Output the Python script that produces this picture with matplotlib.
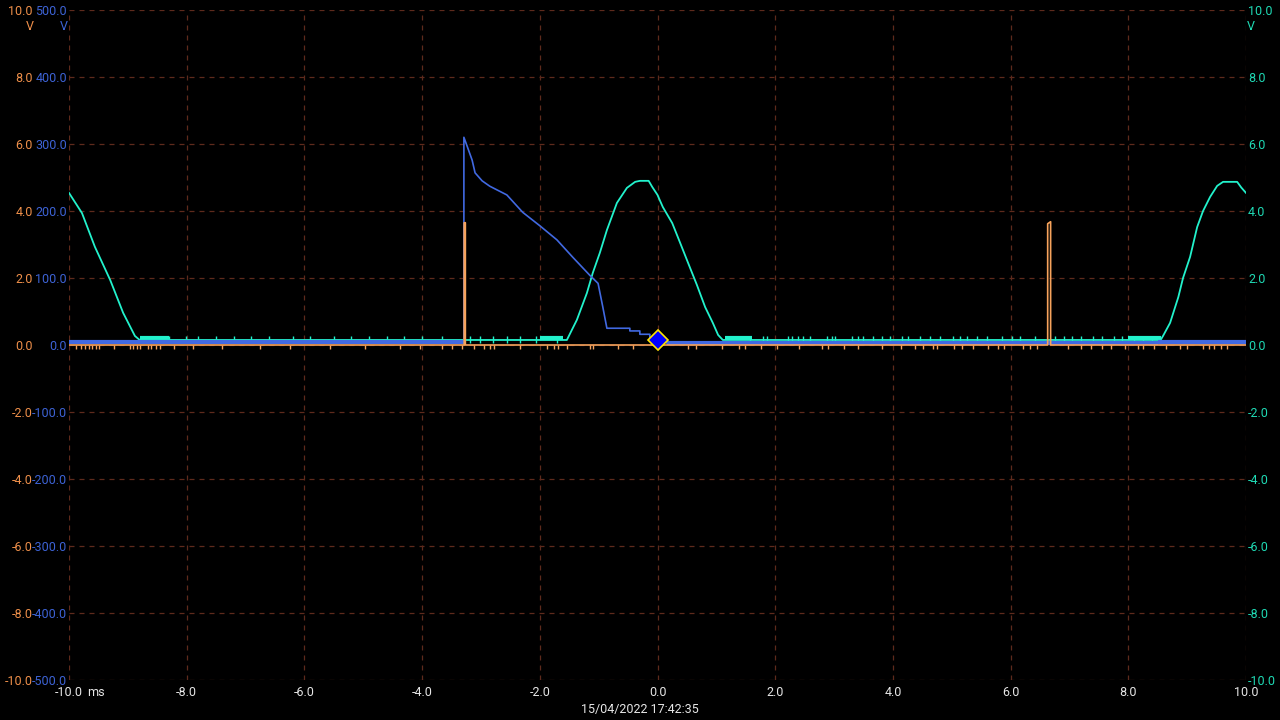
import matplotlib
matplotlib.use("Agg")
import matplotlib.pyplot as plt
import numpy as np

plt.rcParams['font.family'] = ['Roboto', 'DejaVu Sans']

# ---- data ----
# channel C (cyan, right axis, V)
cyan_t = [-10.0, -9.78, -9.56, -9.30, -9.08, -8.88, -8.80, -1.54, -1.37, -1.20,
          -1.10, -0.98, -0.86, -0.69, -0.52, -0.38, -0.30, -0.15, -0.09, 0.0,
          0.09, 0.25, 0.38, 0.52, 0.67, 0.81, 0.94, 1.03, 1.11, 8.55,
          8.59, 8.71, 8.85, 8.93, 9.05, 9.17, 9.27, 9.39, 9.51, 9.61,
          9.85, 9.92, 10.0]
cyan_v = [4.54, 3.94, 2.93, 1.94, 0.96, 0.27, 0.15, 0.15, 0.75, 1.55,
          2.15, 2.75, 3.43, 4.24, 4.69, 4.87, 4.90, 4.90, 4.72, 4.48,
          4.12, 3.64, 3.07, 2.45, 1.79, 1.13, 0.66, 0.30, 0.15, 0.15,
          0.27, 0.66, 1.43, 2.00, 2.63, 3.52, 4.00, 4.42, 4.75, 4.87,
          4.87, 4.70, 4.54]
cyan_spikes = [-8.76, -8.45, -8.30, -8.01, -7.81, -7.5, -7.2, -6.9, -6.6, -6.2,
               -5.9, -5.5, -5.2, -4.9, -4.6, -4.3, -4.0, -3.66, -3.19, -3.02,
               -2.80, -2.56, -2.34, -2.06, -1.71, 1.57, 1.79, 1.86, 2.22, 2.29,
               2.39, 2.47, 2.59, 2.88, 2.97, 3.02, 3.30, 3.41, 3.49, 3.66,
               3.81, 3.95, 4.15, 4.26, 4.46, 4.63, 4.80, 5.02, 5.14, 5.26,
               5.43, 5.60, 5.85, 6.02, 6.16, 6.41, 6.75, 6.9, 7.05, 7.2,
               7.4, 7.55, 7.75, 7.9, 8.1, 8.25, 8.4]
cyan_bands = [(-8.8, -8.3), (-2.0, -1.6), (1.15, 1.6), (8.0, 8.55)]

# channel B (blue, left inner axis, V)
blue_t = [-10.0, -3.29, -3.29, -3.24, -3.15, -3.10, -2.98, -2.85, -2.56, -2.29,
          -2.0, -1.71, -1.44, -1.15, -1.01, -0.93, -0.86, -0.47, -0.47, -0.30,
          -0.30, -0.13, -0.13, 0.16, 0.16, 10.0]
blue_v = [4, 4, 310, 298, 276, 257, 245, 237, 224, 198,
          178, 157, 131, 104, 92, 57, 25, 25, 21, 21,
          16, 16, 9, 4.5, 2, 2]
blue_bands = [(-10.0, -3.29, 4.5), (0.16, 8.5, 2.5), (8.5, 10.0, 4.5)]

# channel A (orange, left outer axis, V)
orange_t = [-10.0, -3.285, -3.285, -3.265, -3.265, 6.63, 6.63, 6.68, 6.68, 10.0]
orange_v = [0.0, 0.0, 3.65, 3.65, 0.0, 0.0, 3.62, 3.68, 0.0, 0.0]
orange_ticks = [-9.88, -9.80, -9.73, -9.66, -9.61, -9.54, -9.49, -9.24, -8.96, -8.91,
                -8.84, -8.79, -8.66, -8.61, -8.52, -8.45, -8.22, -7.89, -7.40, -6.75,
                -6.24, -5.57, -4.97, -4.38, -4.04, -3.66, -3.49, -3.32, -3.12, -2.95,
                -2.85, -2.78, -2.34, -1.88, -1.76, -1.69, -1.54, -1.15, -1.10, -0.67,
                -0.42, 0.01, 0.52, 0.65, 1.10, 1.38, 1.49, 1.76, 2.03, 2.40,
                2.80, 2.90, 3.17, 3.41, 3.81, 4.14, 4.37, 4.51, 4.68, 4.75,
                5.04, 5.17, 5.36, 5.62, 5.79, 5.89, 6.21, 6.33, 6.45, 6.98,
                7.20, 7.37, 7.55, 7.7, 7.95, 8.16, 8.25, 8.44, 8.64, 8.88,
                9.00, 9.27, 9.37, 9.46, 9.58, 9.68]

x_ticks = [-10, -8, -6, -4, -2, 0, 2, 4, 6, 8, 10]
y_ticks = [-10, -8, -6, -4, -2, 0, 2, 4, 6, 8, 10]
blue_ticks = [-500, -400, -300, -200, -100, 0, 100, 200, 300, 400, 500]
trigger = (0.0, 0.15)
timestamp = "15/04/2022 17:42:35"

C_OR = '#f7a35c'
C_OR_TXT = '#ee8f4a'
C_BL = '#4169e1'
C_BL_TXT = '#3d63d6'
C_CY = '#22f2cc'
C_CY_TXT = '#1fd9b4'
C_GRID = '#5e2a1c'
C_TXT = '#e6e6e6'

fig = plt.figure(figsize=(12.8, 7.2), dpi=100, facecolor='black')
ax = fig.add_axes([69 / 1280, 40 / 720, 1177 / 1280, 670 / 720])
ax.set_facecolor('black')
axb = ax.twinx()
axo = ax.twinx()
for a in (ax, axb, axo):
    for s in a.spines.values():
        s.set_visible(False)
    a.set_xlim(-10, 10)
axb.patch.set_visible(False)
axo.patch.set_visible(False)

# base axis: cyan channel, grid, x labels
ax.set_ylim(-10, 10)
ax.set_xticks(x_ticks)
ax.set_xticklabels(['%.1f' % v for v in x_ticks])
ax.set_yticks(y_ticks)
ax.set_yticklabels(['%.1f' % v for v in y_ticks])
ax.yaxis.tick_right()
ax.tick_params(axis='x', length=0, pad=4, labelcolor=C_TXT, labelsize=9)
ax.tick_params(axis='y', length=0, pad=1.5, labelcolor=C_CY_TXT, labelsize=9)
ax.grid(True, color=C_GRID, linestyle=(0, (4, 4)), linewidth=0.9)
ax.set_axisbelow(True)

for x0, x1 in cyan_bands:
    ax.plot([x0, x1], [0.2, 0.2], color=C_CY, lw=3, solid_capstyle='butt')
ax.vlines(cyan_spikes, 0.05, 0.28, color=C_CY, lw=1)
ax.plot(cyan_t, cyan_v, color=C_CY, lw=1.3)

# blue channel
axb.set_ylim(-500, 500)
axb.yaxis.tick_left()
axb.set_yticks(blue_ticks)
axb.set_yticklabels(['%.1f' % v for v in blue_ticks])
axb.tick_params(axis='y', length=0, pad=1.5, labelcolor=C_BL_TXT, labelsize=9)
for x0, x1, lev in blue_bands:
    axb.plot([x0, x1], [lev, lev], color=C_BL, lw=3, solid_capstyle='butt')
axb.plot(blue_t, blue_v, color=C_BL, lw=1.2)

# orange channel
axo.set_ylim(-10, 10)
axo.yaxis.tick_left()
axo.set_yticks(y_ticks)
axo.set_yticklabels(['%.1f' % v for v in y_ticks])
axo.tick_params(axis='y', length=0, pad=26, labelcolor=C_OR_TXT, labelsize=9)
axo.vlines(orange_ticks, -0.12, 0.0, color=C_OR, lw=1)
axo.plot(orange_t, orange_v, color=C_OR, lw=1.2)
axo.plot([trigger[0]], [trigger[1]], marker='D', ms=10.5, mfc='#0000ff',
         mec='#ffe600', mew=1.2, zorder=10)

# units and captions
fig.text(30 / 1280, 1 - 27 / 720, 'V', color=C_OR_TXT, fontsize=9, ha='center', va='center')
fig.text(64 / 1280, 1 - 27 / 720, 'V', color=C_BL_TXT, fontsize=9, ha='center', va='center')
fig.text(1251 / 1280, 1 - 27 / 720, 'V', color=C_CY_TXT, fontsize=9, ha='center', va='center')
fig.text(87 / 1280, 1 - 692 / 720, 'ms', color=C_TXT, fontsize=9, ha='left', va='center')
fig.text(0.5, 1 - 709 / 720, timestamp, color=C_TXT, fontsize=9, ha='center', va='center')

fig.savefig('out.png', dpi=100, facecolor='black')
